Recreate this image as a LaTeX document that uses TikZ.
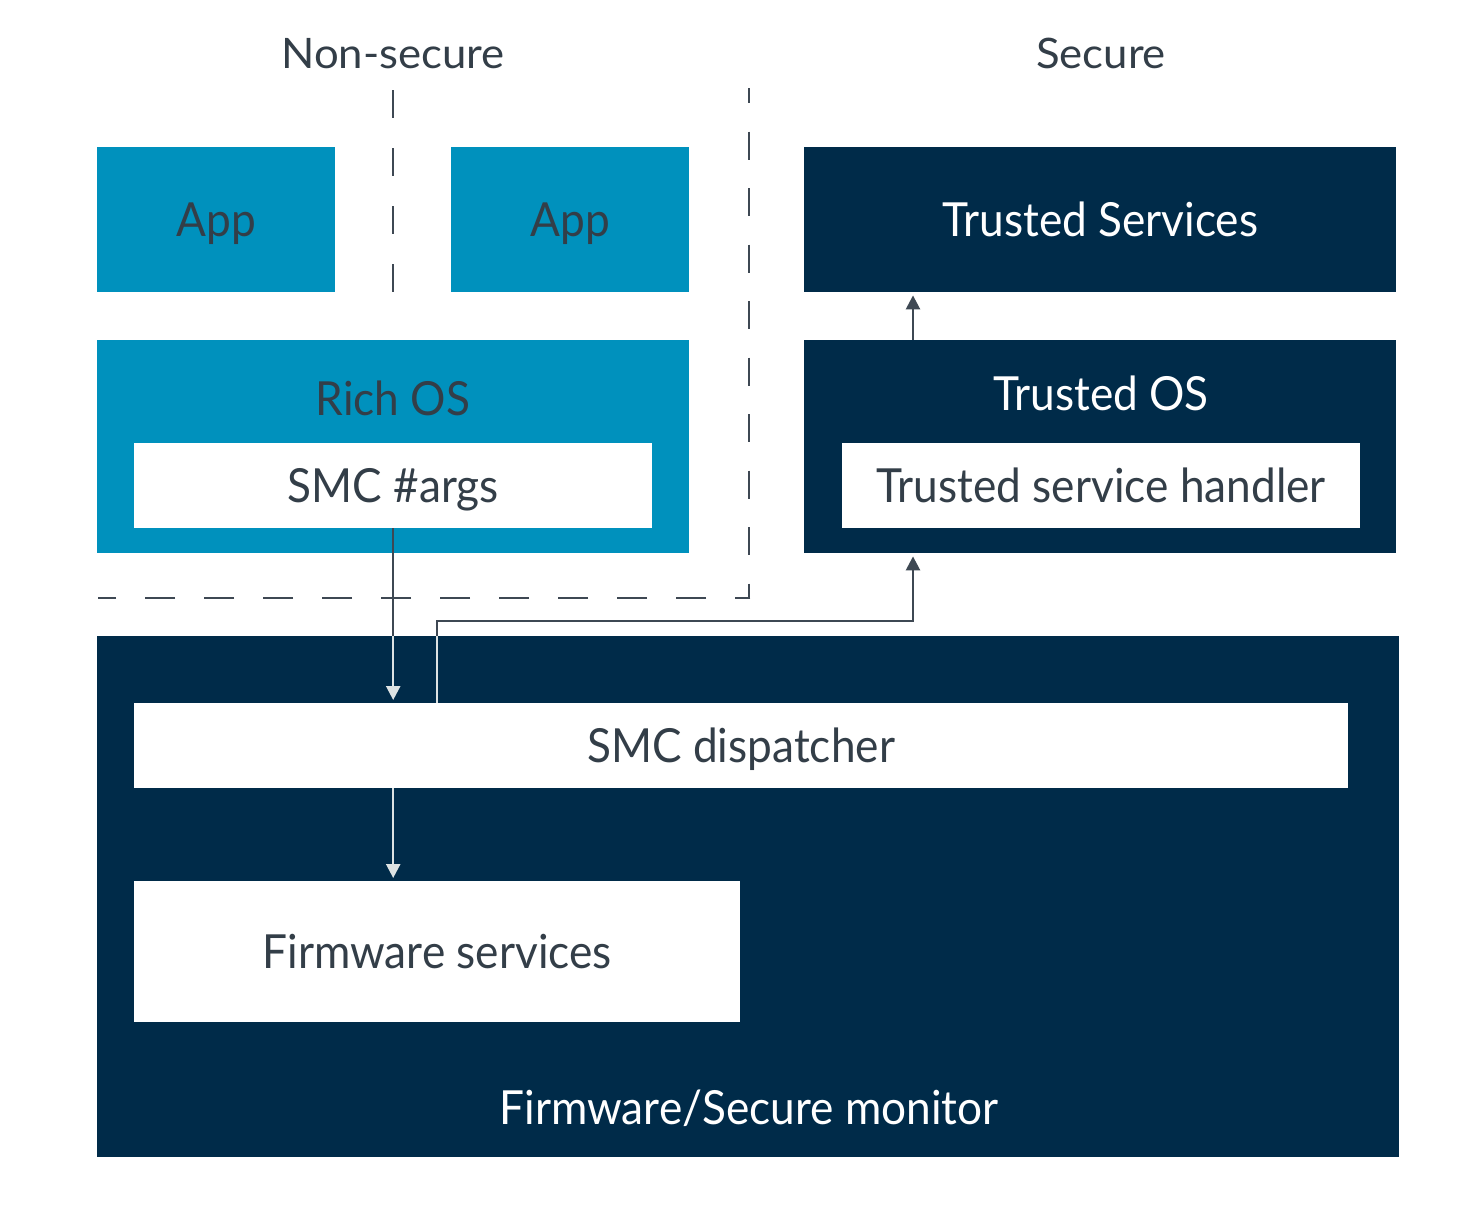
\documentclass[tikz,border=0pt]{standalone}
\usepackage{fontspec}
\setmainfont{Lato}
\newfontfamily\boxfont{Lato}[FakeStretch=0.94]
\newfontfamily\titlefont{Lato}[FakeStretch=1.04]
\usetikzlibrary{arrows.meta}
\definecolor{armteal}{HTML}{0091BD}
\definecolor{armnavy}{HTML}{002B49}
\definecolor{armtext}{HTML}{333E48}
\definecolor{armline}{HTML}{3E4853}
\definecolor{armlight}{HTML}{DDE3E3}
\tikzset{
  x=1pt, y=-1pt,
  box/.style={draw=none, inner sep=0pt, minimum width=#1, anchor=north west,
    text height=33pt, text depth=0pt, font=\boxfont\fontsize{47}{56}\selectfont},
  tealbox/.style={box=#1, fill=armteal, text=armtext},
  navybox/.style={box=#1, fill=armnavy, text=white},
  whitebox/.style={box=#1, fill=white, text=armtext},
  title/.style={anchor=base, inner sep=0pt, text=armtext, font=\titlefont\fontsize{42}{50}\selectfont},
  boxlabel/.style={anchor=base, inner sep=0pt, font=\boxfont\fontsize{47}{56}\selectfont},
  dashline/.style={draw=armline, line width=2.5pt},
  darkline/.style={draw=armline, line width=2.5pt},
  lightline/.style={draw=armlight, line width=2.5pt},
  darkarr/.style={darkline, -{Triangle[width=14pt,length=14pt]}, shorten >=3pt},
  lightarr/.style={lightline, -{Triangle[width=14pt,length=14pt]}, shorten >=3pt},
}
\begin{document}
\begin{tikzpicture}
\useasboundingbox (0,0) rectangle (1482,1216);
\fill[white] (0,0) rectangle (1482,1216);

% titles
\node[title] (nstitle) at (393,68) {Non-secure};
\node[title] (stitle) at (1101,68) {Secure};

% dashed separators
\coordinate (d0) at (393,90);
\coordinate (d1) at (393,294);
\draw[dashline, dash pattern=on 28pt off 30pt] (d0) -- (d1);
\coordinate (e0) at (749,88);
\coordinate (e1) at (749,598);
\coordinate (e2) at (750.25,598);
\coordinate (e3) at (98,598);
\draw[dashline, dash pattern=on 28pt off 28.5pt, dash phase=13pt] (e0) -- (e1);
\draw[dashline, dash pattern=on 30pt off 29pt, dash phase=14.75pt] (e2) -- (e3);

% top row
\node[tealbox=238pt, minimum height=145pt] (app1) at (97,147) {App};
\node[tealbox=238pt, minimum height=145pt] (app2) at (451,147) {App};
\node[navybox=592pt, minimum height=145pt] (ts) at (804,147) {Trusted Services};

% middle row
\node[tealbox=592pt, minimum height=213pt] (richos) at (97,340) {};
\node[boxlabel, text=armtext] (richoslbl) at (393,415) {Rich OS};
\node[whitebox=518pt, minimum height=85pt] (smcargs) at (134,443) {SMC \#args};

\node[navybox=592pt, minimum height=213pt] (tos) at (804,340) {};
\node[boxlabel, text=white] (toslbl) at (1101,410) {Trusted OS};
\node[whitebox=518pt, minimum height=85pt] (tsh) at (842,443) {Trusted service handler};

% firmware
\node[navybox=1302pt, minimum height=521pt] (fw) at (97,636) {};
\node[boxlabel, text=white] (fwlbl) at (749,1124) {Firmware/Secure monitor};
\node[whitebox=1214pt, minimum height=85pt] (smcd) at (134,703) {SMC dispatcher};
\node[whitebox=606pt, minimum height=141pt] (fws) at (134,881) {Firmware services};

% connectors
\coordinate (a1) at (smcargs.south |- fw.north);
\draw[darkline] (smcargs.south) -- (a1);
\draw[lightarr] (a1) -- (smcargs.south |- smcd.north);

\coordinate (b0) at (437,703);
\coordinate (b1) at (437,636);
\coordinate (b2) at (437,621);
\coordinate (b3) at (913,621);
\draw[lightline] (b0) -- (b1);
\draw[darkarr] (b1) -- (b2) -- (b3) -- (b3 |- tos.south);

\draw[darkarr] (b3 |- tos.north) -- (b3 |- ts.south);

\draw[lightarr] (smcargs.south |- smcd.south) -- (smcargs.south |- fws.north);
\end{tikzpicture}
\end{document}
